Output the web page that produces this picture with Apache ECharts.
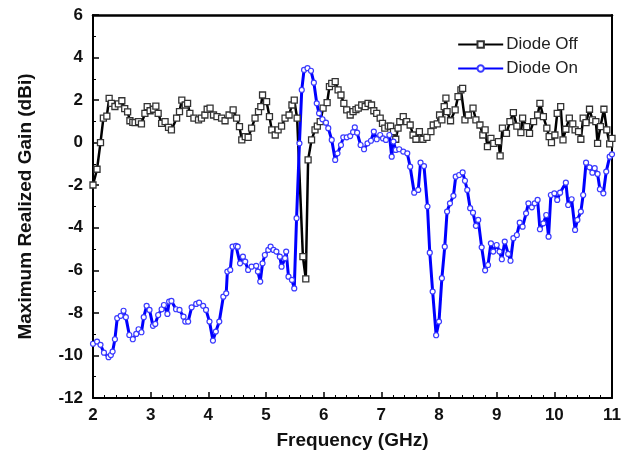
<!DOCTYPE html>
<html><head><meta charset="utf-8">
<script src="https://cdn.jsdelivr.net/npm/echarts@6/dist/echarts.min.js"></script>
<style>html,body{margin:0;padding:0;background:#fff}#c{width:635px;height:462px}</style>
</head><body><div id="c"></div>
<script>
var xTicks = [2,3,4,5,6,7,8,9,10,11];
var yTicks = [-12,-10,-8,-6,-4,-2,0,2,4,6];
var seriesNames = ['Diode Off','Diode On'];

var freqOff = [2.00,2.07,2.13,2.18,2.24,2.28,2.32,2.38,2.44,2.50,2.55,2.60,2.64,2.69,2.73,2.79,2.84,2.90,2.94,2.99,3.05,3.09,3.13,3.19,3.25,3.31,3.36,3.45,3.50,3.54,3.60,3.64,3.68,3.75,3.83,3.88,3.94,3.98,4.03,4.09,4.15,4.23,4.29,4.36,4.43,4.49,4.54,4.58,4.64,4.69,4.75,4.81,4.87,4.91,4.94,5.01,5.06,5.10,5.16,5.21,5.27,5.33,5.40,5.45,5.49,5.54,5.64,5.69,5.73,5.79,5.85,5.89,5.94,5.99,6.06,6.10,6.14,6.20,6.25,6.30,6.35,6.40,6.46,6.51,6.56,6.60,6.66,6.72,6.77,6.83,6.87,6.92,6.98,7.02,7.06,7.12,7.16,7.21,7.25,7.29,7.32,7.38,7.44,7.50,7.55,7.60,7.66,7.72,7.79,7.86,7.90,7.97,8.01,8.05,8.09,8.12,8.14,8.20,8.28,8.33,8.38,8.41,8.45,8.51,8.59,8.64,8.71,8.76,8.80,8.84,8.90,8.95,9.03,9.06,9.10,9.17,9.23,9.29,9.35,9.42,9.45,9.52,9.57,9.64,9.71,9.75,9.81,9.87,9.91,9.95,10.01,10.05,10.11,10.15,10.20,10.26,10.32,10.36,10.42,10.46,10.50,10.55,10.61,10.66,10.72,10.75,10.80,10.86,10.91,10.96,11.00];
var gainOff = [-1.99,-1.25,0.00,1.15,1.25,2.08,1.85,1.70,1.82,1.97,1.60,1.45,1.03,0.95,0.94,0.99,0.88,1.38,1.69,1.50,1.57,1.72,1.38,0.91,0.99,0.72,0.60,1.15,1.46,2.00,1.77,1.85,1.38,1.15,1.07,1.15,1.30,1.57,1.62,1.30,1.22,1.15,1.03,1.30,1.54,1.15,0.75,0.13,0.28,0.25,0.68,1.15,1.46,1.69,2.24,1.93,1.22,0.60,0.36,0.60,0.78,1.15,1.30,1.77,2.00,1.15,-5.36,-6.40,-0.81,0.13,0.60,0.78,0.99,1.62,1.88,2.63,2.79,2.87,2.48,2.24,1.85,1.54,1.30,1.46,1.55,1.62,1.77,1.69,1.85,1.77,1.50,1.38,1.15,0.91,0.68,0.78,0.78,0.52,0.16,0.68,0.99,1.22,0.99,0.83,0.36,0.16,0.52,0.16,0.25,0.52,0.83,0.88,1.30,1.07,1.69,2.09,1.46,1.03,1.54,2.16,2.48,2.55,1.07,1.30,1.62,1.07,0.83,0.36,0.60,-0.19,0.20,-0.03,0.05,-0.62,0.68,0.44,0.99,1.41,0.78,0.47,1.15,0.75,0.44,0.99,1.30,1.85,1.22,0.68,0.28,0.00,0.36,1.38,1.69,0.13,0.63,1.15,0.88,0.60,0.52,0.16,1.15,0.94,1.57,1.07,0.99,-0.03,0.75,1.57,0.60,-0.06,0.20];

var freqOn = [2.00,2.07,2.13,2.19,2.27,2.31,2.34,2.38,2.42,2.48,2.53,2.57,2.63,2.69,2.75,2.79,2.84,2.88,2.93,2.98,3.04,3.08,3.13,3.19,3.23,3.29,3.32,3.36,3.44,3.50,3.57,3.60,3.65,3.71,3.79,3.84,3.91,3.96,4.02,4.08,4.13,4.19,4.26,4.31,4.33,4.38,4.42,4.48,4.51,4.55,4.60,4.64,4.69,4.75,4.83,4.86,4.90,4.94,4.98,5.04,5.08,5.13,5.18,5.24,5.27,5.33,5.35,5.39,5.45,5.49,5.53,5.58,5.62,5.66,5.72,5.78,5.83,5.88,5.92,5.98,6.04,6.08,6.14,6.20,6.24,6.30,6.34,6.40,6.46,6.51,6.54,6.58,6.64,6.70,6.76,6.82,6.87,6.92,6.98,7.03,7.08,7.14,7.18,7.21,7.25,7.31,7.38,7.45,7.50,7.57,7.64,7.68,7.74,7.80,7.84,7.89,7.95,8.00,8.05,8.10,8.14,8.19,8.25,8.29,8.35,8.41,8.45,8.49,8.54,8.59,8.64,8.68,8.74,8.80,8.85,8.90,8.94,9.00,9.05,9.09,9.14,9.20,9.24,9.29,9.35,9.40,9.45,9.51,9.55,9.61,9.66,9.71,9.75,9.81,9.86,9.90,9.94,10.00,10.05,10.10,10.20,10.24,10.30,10.36,10.40,10.46,10.50,10.55,10.61,10.66,10.70,10.75,10.79,10.85,10.90,10.96,11.00];
var gainOn = [-9.45,-9.35,-9.50,-9.87,-10.08,-9.98,-9.82,-9.24,-8.25,-8.14,-7.90,-8.20,-9.04,-9.24,-8.99,-8.77,-8.91,-8.20,-7.67,-7.86,-8.61,-8.52,-8.10,-7.83,-7.63,-8.05,-7.47,-7.44,-7.83,-7.86,-8.18,-8.41,-8.41,-7.74,-7.58,-7.52,-7.67,-7.86,-8.41,-9.30,-8.88,-8.41,-7.24,-7.08,-6.06,-5.98,-4.89,-4.85,-4.89,-5.67,-5.36,-5.59,-5.98,-5.83,-5.79,-6.06,-6.53,-5.67,-5.28,-5.04,-4.89,-5.04,-5.12,-5.36,-5.83,-5.43,-5.12,-6.30,-6.45,-6.85,-3.55,-0.03,2.48,3.42,3.50,3.38,2.82,1.85,1.38,1.10,0.94,0.68,0.13,-0.81,-0.50,-0.11,0.25,0.25,0.31,0.50,0.72,0.47,-0.11,-0.31,-0.03,0.09,0.52,0.16,0.36,0.20,0.13,0.36,-0.66,0.05,-0.34,-0.31,-0.42,-0.50,-1.13,-2.35,-2.22,-0.94,-1.10,-3.00,-5.17,-7.00,-9.05,-8.41,-6.37,-4.89,-3.24,-2.85,-2.50,-1.60,-1.52,-1.40,-1.79,-2.22,-3.08,-3.29,-3.91,-3.63,-4.92,-6.00,-5.75,-4.73,-5.12,-4.81,-5.12,-5.48,-4.65,-5.23,-5.55,-4.49,-4.34,-3.76,-3.95,-3.32,-2.85,-3.04,-2.85,-2.69,-4.07,-3.79,-3.40,-4.42,-2.46,-2.38,-2.69,-2.35,-1.88,-2.93,-2.66,-4.10,-3.63,-3.24,-2.46,-0.94,-1.16,-1.41,-1.20,-1.47,-2.19,-2.38,-1.36,-0.66,-0.55];

function pairs(xs, ys){ return xs.map(function(x,i){ return [x, ys[i]]; }); }

var chart = echarts.init(document.getElementById('c'), null, {renderer:'canvas'});
var font = 'Liberation Sans, Arial, sans-serif';
chart.setOption({
  animation: false,
  backgroundColor: '#fff',
  grid: {left: 93, right: 23, top: 15, bottom: 64, containLabel: false},
  legend: {
    data: seriesNames, orient: 'vertical', right: 52, top: 31,
    itemWidth: 45, itemHeight: 8, itemGap: 7,
    textStyle: {fontFamily: font, fontSize: 17, color: '#222', padding: [0,0,0,-2]}
  },
  xAxis: [{
    type: 'value', min: 2, max: 11, interval: 1,
    name: 'Frequency (GHz)', nameLocation: 'middle', nameGap: 33,
    nameTextStyle: {fontFamily: font, fontSize: 19, fontWeight: 'bold', color: '#111'},
    axisLine: {show: true, onZero: false, lineStyle: {color: '#000', width: 2}},
    axisTick: {show: true, inside: true, length: 6, lineStyle: {color: '#000', width: 1.5}},
    minorTick: {show: true, splitNumber: 5, length: 3, lineStyle: {color: '#000', width: 1}},
    axisLabel: {fontFamily: font, fontSize: 17, fontWeight: 'bold', color: '#111', margin: 9,
      formatter: function(v){ return xTicks.indexOf(v) >= 0 ? String(v) : ''; }},
    splitLine: {show: false}
  }, {
    type: 'value', min: 2, max: 11, position: 'top',
    axisLine: {show: true, onZero: false, lineStyle: {color: '#000', width: 2.5}},
    axisTick: {show: false}, axisLabel: {show: false}, splitLine: {show: false}
  }],
  yAxis: [{
    type: 'value', min: -12, max: 6, interval: 2,
    name: 'Maximum Realized Gain (dBi)', nameLocation: 'middle', nameGap: 58, nameRotate: 90,
    nameTextStyle: {fontFamily: font, fontSize: 19, fontWeight: 'bold', color: '#111'},
    axisLine: {show: true, onZero: false, lineStyle: {color: '#000', width: 2}},
    axisTick: {show: true, inside: true, length: 6, lineStyle: {color: '#000', width: 1.5}},
    minorTick: {show: true, splitNumber: 2, length: 3, lineStyle: {color: '#000', width: 1}},
    axisLabel: {fontFamily: font, fontSize: 17, fontWeight: 'bold', color: '#111', margin: 10,
      formatter: function(v){ return yTicks.indexOf(v) >= 0 ? String(v) : ''; }},
    splitLine: {show: false}
  }, {
    type: 'value', min: -12, max: 6, position: 'right',
    axisLine: {show: true, onZero: false, lineStyle: {color: '#000', width: 2}},
    axisTick: {show: false}, axisLabel: {show: false}, splitLine: {show: false}
  }],
  series: [{
    name: seriesNames[0], type: 'line', data: pairs(freqOff, gainOff),
    symbol: 'rect', symbolSize: 6, showAllSymbol: true,
    lineStyle: {color: '#000', width: 2.5},
    itemStyle: {color: '#fff', borderColor: '#333', borderWidth: 1.3},
    emphasis: {disabled: true}
  }, {
    name: seriesNames[1], type: 'line', data: pairs(freqOn, gainOn),
    symbol: 'circle', symbolSize: 5, showAllSymbol: true,
    lineStyle: {color: '#0000ff', width: 3},
    itemStyle: {color: '#fff', borderColor: '#3a3aff', borderWidth: 1.2},
    emphasis: {disabled: true}
  }]
});
</script></body></html>
